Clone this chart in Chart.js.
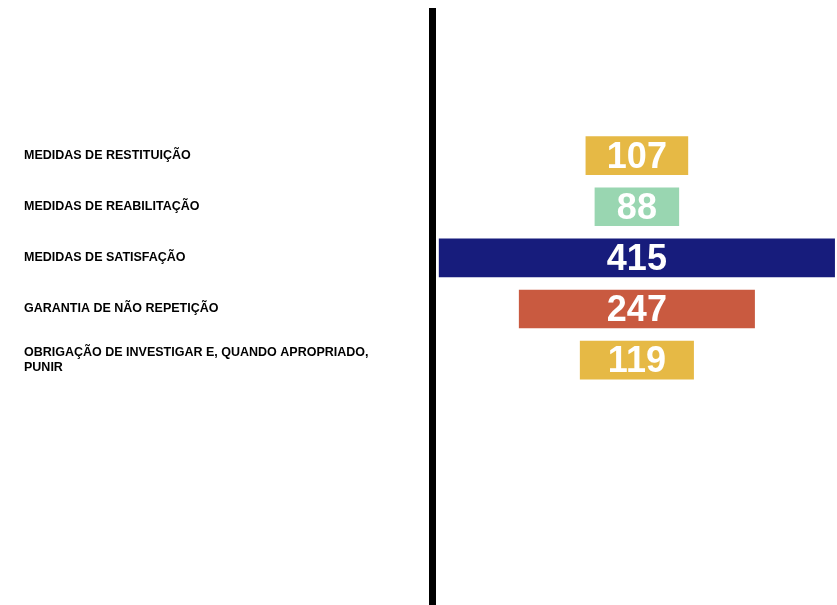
<!DOCTYPE html>
<html>
<head>
<meta charset="utf-8">
<script src="https://cdn.jsdelivr.net/npm/chart.js@4"></script>
<style>
  body { margin: 0; background: #fff; }
  #wrap { width: 837px; height: 605px; }
</style>
</head>
<body>
<div id="wrap"><canvas id="myChart"></canvas></div>
<script>
var categorias = [
    'MEDIDAS DE RESTITUIÇÃO',
    'MEDIDAS DE REABILITAÇÃO',
    'MEDIDAS DE SATISFAÇÃO',
    'GARANTIA DE NÃO REPETIÇÃO',
    ['OBRIGAÇÃO DE INVESTIGAR E, QUANDO APROPRIADO,', 'PUNIR']
];
var valores = [107, 88, 415, 247, 119];
var cores = ['#E6B945', '#99D6B1', '#171C7C', '#C95A40', '#E6B945'];

// funil: cada barra centrada no zero
var dados = valores.map(function (v, i) {
    return { x: [-v / 2, v / 2], y: i };
});

var rotulos = {
    id: 'rotulos',
    afterDatasetsDraw: function (chart) {
        var ctx = chart.ctx;
        var meta = chart.getDatasetMeta(0);
        ctx.save();
        ctx.fillStyle = '#fff';
        ctx.font = 'bold 36px "Liberation Sans", Arial, sans-serif';
        ctx.textAlign = 'center';
        ctx.textBaseline = 'alphabetic';
        meta.data.forEach(function (bar, i) {
            var cx = (bar.x + bar.base) / 2;
            ctx.fillText(valores[i], cx, bar.y + 12);
        });
        ctx.restore();
    }
};

var ctx = document.getElementById('myChart').getContext('2d');

var myChart = new Chart(ctx, {
    type: 'bar',
    data: {
        datasets: [{
            data: dados,
            backgroundColor: cores,
            borderWidth: 0,
            barThickness: 38
        }]
    },
    options: {
        indexAxis: 'y',
        responsive: true,
        maintainAspectRatio: false,
        animation: false,
        layout: { padding: { left: 24, top: 11.5, right: 0, bottom: 0 } },
        plugins: {
            legend: { display: false },
            tooltip: { enabled: false }
        },
        scales: {
            x: {
                type: 'linear',
                min: -215,
                max: 210,
                display: false
            },
            y: {
                type: 'linear',
                reverse: true,
                offset: false,
                min: -2.82,
                max: 8.79,
                grid: { display: false, offset: false },
                border: { display: true, color: '#000', width: 7 },
                afterBuildTicks: function (scale) {
                    scale.ticks = categorias.map(function (c, i) { return { value: i }; });
                },
                afterFit: function (scale) {
                    scale.width = 408;
                    scale.paddingTop = 0;
                    scale.paddingBottom = 0;
                },
                ticks: {
                    crossAlign: 'far',
                    color: '#000',
                    font: { family: '"Liberation Sans", Arial, sans-serif', size: 12.5, weight: 'bold' },
                    callback: function (value) {
                        return categorias[value];
                    }
                }
            }
        }
    },
    plugins: [rotulos]
});
</script>
</body>
</html>
